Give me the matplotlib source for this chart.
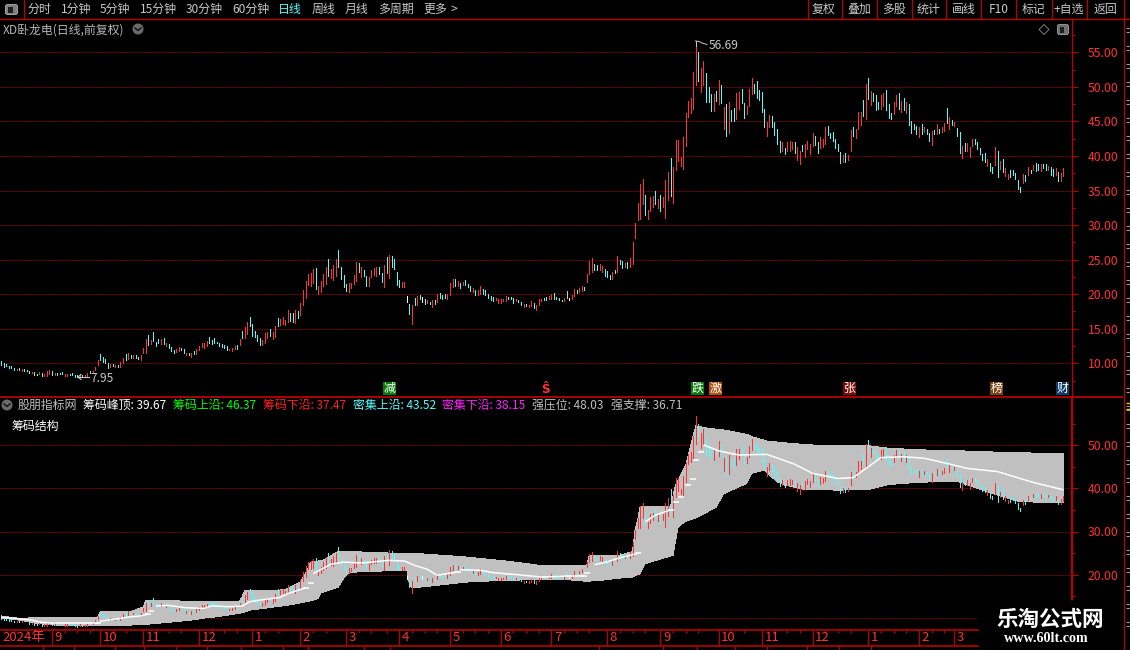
#!/usr/bin/env python3
"""Daily candles with a chip-structure panel, dark trading terminal layout."""

import matplotlib

matplotlib.use("Agg")
import matplotlib.pyplot as plt
from matplotlib.patches import Circle, FancyBboxPatch, Polygon, Rectangle

plt.rcParams["font.family"] = ["Noto Sans CJK SC", "DejaVu Sans"]

# one value per trading day
bar_high = [
    10.34, 10.0, 9.9, 9.6, 9.6, 9.3, 9.2, 9.3, 9.2, 9.1,
    9.0, 8.9, 8.75, 8.75, 8.45, 8.75, 8.6, 8.45, 8.9, 9.0,
    8.9, 8.6, 8.6, 8.6, 8.75, 8.45, 8.45, 8.45, 8.6, 8.3,
    8.3, 8.45, 8.3, 8.3, 8.6, 8.9, 8.9, 9.47, 10.4, 11.3,
    10.9, 10.6, 10.0, 9.9, 9.9, 9.7, 9.76, 10.2, 10.77, 11.3,
    11.5, 11.2, 11.2, 11.2, 10.9, 11.2, 12.2, 13.5, 14.1, 13.4,
    14.5, 13.1, 13.5, 13.5, 13.65, 12.95, 12.8, 12.35, 11.9, 12.05,
    12.35, 12.2, 12.05, 11.5, 11.5, 11.5, 11.8, 12.05, 12.5, 12.95,
    12.95, 13.2, 13.8, 13.4, 13.65, 13.1, 12.95, 12.8, 12.65, 12.5,
    12.1, 12.2, 12.5, 12.65, 13.5, 14.7, 15.25, 16.0, 16.7, 15.7,
    14.7, 14.1, 13.65, 13.4, 14.4, 14.5, 15.0, 14.5, 15.4, 16.55,
    16.4, 16.7, 16.3, 17.7, 17.3, 17.3, 17.7, 17.6, 18.7, 20.6,
    21.9, 22.9, 23.1, 23.6, 23.75, 21.15, 21.85, 22.9, 24.0, 25.05,
    23.6, 24.2, 25.05, 26.35, 23.9, 22.75, 21.45, 21.6, 21.6, 22.75,
    24.6, 24.45, 23.9, 23.45, 22.6, 22.45, 23.45, 23.75, 23.9, 24.0,
    23.0, 24.2, 25.35, 25.6, 25.5, 25.05, 23.15, 22.0, 21.8, 21.8,
    19.75, 18.6, 18.45, 19.45, 19.75, 19.9, 19.6, 19.3, 19.2, 18.9,
    19.2, 19.2, 20.05, 20.2, 19.9, 20.05, 20.05, 21.65, 22.2, 22.2,
    21.9, 21.65, 21.8, 22.05, 21.5, 21.2, 20.9, 20.6, 20.6, 21.2,
    20.75, 20.6, 20.05, 19.75, 19.6, 19.45, 19.3, 19.3, 19.3, 19.75,
    19.6, 19.6, 19.45, 19.3, 19.2, 18.9, 18.6, 18.6, 18.45, 19.05,
    18.75, 18.45, 19.3, 19.3, 19.45, 19.6, 19.75, 20.05, 20.2, 19.6,
    19.45, 19.2, 19.45, 20.5, 19.45, 19.9, 20.75, 20.6, 20.9, 21.2,
    21.05, 22.95, 24.8, 25.25, 24.4, 24.25, 24.4, 24.1, 23.65, 23.35,
    22.8, 23.25, 23.5, 25.55, 24.95, 24.8, 24.55, 24.7, 25.25, 27.55,
    30.3, 33.2, 35.95, 36.65, 34.35, 32.2, 34.05, 34.2, 34.95, 33.8,
    34.35, 34.05, 36.55, 37.7, 39.75, 38.45, 42.35, 42.35, 39.9, 42.8,
    46.15, 48.0, 48.45, 52.2, 56.69, 55.0, 52.8, 53.7, 51.95, 50.05,
    48.9, 48.9, 49.45, 51.05, 50.2, 47.15, 47.45, 47.75, 46.7, 47.0,
    49.05, 49.2, 49.75, 47.6, 47.3, 49.75, 51.35, 50.35, 50.8, 49.6,
    49.3, 46.85, 44.85, 45.9, 45.75, 44.9, 43.85, 42.15, 42.0, 41.1,
    42.0, 42.15, 42.0, 42.0, 41.25, 40.7, 41.55, 41.7, 42.15, 41.7,
    43.3, 42.85, 42.0, 42.7, 42.4, 44.15, 44.3, 43.3, 43.45, 42.4,
    41.7, 40.55, 40.1, 40.4, 40.1, 43.7, 44.15, 43.85, 46.3, 46.3,
    48.05, 50.35, 51.25, 49.35, 49.05, 48.8, 47.75, 48.8, 49.05, 49.5,
    47.5, 46.2, 47.75, 48.8, 49.05, 47.9, 48.35, 47.75, 47.5, 45.0,
    44.6, 44.3, 44.15, 44.6, 44.15, 43.85, 43.3, 43.6, 43.7, 44.6,
    43.85, 44.15, 44.75, 46.9, 45.6, 45.15, 44.9, 44.0, 43.45, 41.4,
    41.85, 41.85, 41.25, 42.4, 42.4, 42.0, 41.1, 40.25, 40.4, 39.55,
    38.95, 38.35, 41.25, 40.7, 39.25, 39.55, 38.25, 37.35, 37.95, 37.95,
    37.5, 36.5, 35.5, 37.35, 37.2, 38.35, 38.0, 38.65, 38.95, 38.8,
    38.8, 38.8, 38.8, 38.5, 38.35, 38.1, 38.25, 37.65, 37.5, 38.25,
]
bar_low = [
    9.76, 9.47, 9.57, 9.28, 9.28, 9.0, 9.0, 9.0, 8.9, 8.9,
    8.9, 8.6, 8.55, 8.3, 8.3, 8.45, 8.15, 8.15, 8.15, 8.45,
    8.3, 8.3, 8.3, 8.45, 8.45, 8.15, 8.15, 8.3, 8.3, 8.0,
    7.95, 8.0, 8.15, 8.15, 8.15, 8.55, 8.55, 9.0, 9.76, 10.5,
    10.2, 10.0, 9.3, 9.47, 9.6, 9.47, 9.47, 9.47, 10.05, 10.5,
    10.6, 10.77, 10.77, 10.77, 10.6, 10.5, 11.5, 11.5, 12.65, 12.8,
    13.2, 12.5, 12.95, 12.8, 12.8, 12.5, 12.2, 11.8, 11.5, 11.65,
    11.8, 11.9, 11.5, 11.2, 11.2, 10.9, 11.35, 11.35, 11.9, 12.35,
    12.2, 12.5, 12.95, 12.8, 12.95, 12.95, 12.5, 12.35, 12.2, 11.9,
    11.9, 11.8, 12.05, 12.05, 12.65, 13.65, 13.65, 14.25, 15.4, 13.95,
    13.8, 13.2, 12.65, 12.65, 12.95, 13.65, 13.95, 13.5, 13.8, 15.4,
    15.5, 15.7, 15.5, 16.0, 16.1, 16.0, 15.8, 16.55, 17.0, 18.4,
    19.45, 21.3, 21.2, 21.6, 20.7, 20.0, 20.3, 21.15, 21.45, 22.6,
    22.3, 22.0, 22.6, 23.9, 22.15, 21.0, 20.4, 20.3, 20.85, 21.45,
    21.85, 23.2, 22.45, 22.6, 21.15, 21.15, 22.45, 22.75, 22.6, 22.9,
    21.7, 21.0, 23.0, 22.3, 23.9, 23.6, 21.3, 21.0, 21.05, 21.05,
    18.9, 17.15, 15.7, 18.45, 18.45, 19.3, 18.9, 18.6, 18.75, 18.6,
    18.2, 18.6, 18.9, 19.5, 19.3, 19.5, 19.3, 19.9, 21.05, 21.2,
    21.2, 20.9, 21.35, 21.35, 21.05, 20.5, 20.35, 19.9, 19.9, 20.05,
    20.05, 19.9, 19.5, 19.2, 19.05, 19.2, 18.75, 18.75, 19.05, 19.05,
    19.3, 19.3, 18.75, 19.05, 18.9, 18.45, 18.15, 18.3, 18.15, 18.3,
    18.0, 17.75, 18.45, 19.05, 19.2, 19.2, 19.3, 19.3, 19.3, 19.3,
    19.2, 19.05, 19.05, 19.45, 19.2, 19.3, 19.75, 20.2, 20.35, 20.5,
    20.6, 21.8, 22.95, 23.25, 23.5, 23.5, 23.5, 23.25, 22.65, 22.5,
    22.2, 22.2, 23.1, 23.25, 24.4, 23.8, 23.95, 23.8, 23.95, 24.4,
    28.15, 30.75, 30.9, 33.05, 31.45, 30.9, 32.05, 32.6, 33.05, 32.5,
    32.05, 32.6, 31.05, 33.65, 34.25, 33.25, 38.0, 39.3, 38.6, 38.15,
    41.5, 45.7, 46.15, 46.85, 50.2, 50.9, 49.3, 50.2, 47.85, 47.85,
    46.55, 46.55, 48.0, 47.45, 47.6, 43.95, 42.95, 43.25, 45.1, 45.0,
    45.4, 46.85, 47.7, 45.55, 46.0, 47.3, 48.9, 49.05, 48.45, 48.15,
    46.4, 44.25, 42.95, 44.2, 44.15, 43.0, 41.7, 40.55, 40.7, 40.25,
    40.7, 40.7, 41.0, 40.4, 39.4, 38.8, 40.7, 39.8, 41.0, 40.25,
    41.4, 41.55, 40.4, 41.1, 41.25, 41.7, 43.0, 42.55, 42.15, 41.1,
    40.7, 38.95, 39.1, 39.1, 39.4, 40.7, 42.85, 42.55, 43.85, 44.45,
    45.75, 45.3, 48.2, 47.35, 47.9, 46.6, 46.75, 46.75, 47.2, 46.6,
    45.45, 45.3, 46.05, 47.2, 46.75, 46.3, 46.6, 46.2, 44.45, 43.3,
    43.85, 43.15, 42.7, 43.15, 43.45, 43.15, 42.15, 41.55, 43.15, 43.15,
    43.3, 43.45, 43.6, 44.75, 43.85, 44.45, 44.3, 42.85, 40.4, 39.65,
    40.7, 40.7, 39.8, 41.4, 41.7, 41.0, 40.25, 39.4, 39.1, 38.5,
    37.8, 37.5, 38.65, 36.95, 38.1, 37.65, 37.05, 36.65, 36.95, 37.2,
    36.65, 35.2, 34.8, 36.05, 36.35, 37.2, 37.6, 37.95, 37.8, 37.95,
    37.8, 38.25, 37.95, 37.95, 37.2, 37.05, 37.2, 36.35, 36.35, 37.05,
]
# r = up, c = down, w = flat
bar_kind = (
    "ccccccrcrc" "ccrccrcrrr" "crcccrrccc" "crcrrcrrrc" "cccrcrcrrc"
    "rcrccrrrcr" "cccrcrcccr" "rccrcrcrrr" "rrcccccccc" "rrrcrcrrcc"
    "cccrrrcrrc" "rrrrccrcrr" "rrrrcrrrrc" "rrrccccrrr" "rcrccrrrrc"
    "crcrccccrr" "wcrcrcwcrc" "rcrcccrrrc" "rcrcccrcrr" "cccccrrrrr"
    "cccrccrcrr" "crrrccrrcc" "ccrcwrrcrr" "crrrccrrcc" "crcrccrcrr"
    "rrrrcrrrcr" "crrrcrrrrr" "rrrrrcrrcc" "crcrcrcrcc" "rrccrrrccc"
    "ccrrccccrc" "rrrcrrcrrr" "rccrrrcccc" "ccrcrrcrrr" "crcrcccrrc"
    "ccrrcrcrcc" "ccrcrccrcr" "crrcrcrccr" "crrrcccccr" "ccrcrcrrcc"
    "cccrcrcrcc" "rccrccrcrr"
)

# grey chip band edges and the white peak line, read at the bars where they bend
top_bars = [0, 7, 14, 38, 39, 51, 56, 57, 83, 94, 95, 96, 108, 113, 118, 120, 122, 127,
            133, 142, 153, 165, 183, 199, 213, 222, 231, 232, 244, 249, 250, 251, 252,
            264, 266, 270, 272, 274, 276, 279, 285, 294, 296, 302, 311, 319, 325, 336,
            342, 350, 365, 379, 393, 407, 419]
top_vals = [10.4, 9.85, 10.0, 10.1, 11.4, 11.4, 12.5, 13.9, 13.85, 13.7, 14.85, 16.2,
            16.2, 16.7, 18.3, 20.2, 22.9, 23.3, 25.4, 25.25, 25.0, 24.85, 24.1, 23.15,
            22.1, 22.0, 22.2, 24.5, 24.5, 25.3, 30.3, 32.6, 35.7, 35.7, 40.8, 45.4,
            50.1, 54.5, 54.25, 53.95, 53.55, 52.55, 52.0, 51.0, 50.45, 50.1, 49.9, 49.9,
            49.9, 49.3, 48.9, 48.7, 48.4, 48.2, 48.03]
bot_bars = [0, 7, 14, 21, 28, 46, 51, 59, 75, 81, 85, 95, 98, 113, 122, 125, 126, 133,
            135, 137, 142, 160, 161, 162, 170, 184, 199, 222, 231, 237, 244, 249, 252,
            254, 265, 266, 267, 270, 275, 282, 285, 294, 296, 301, 306, 309, 316, 330,
            342, 350, 359, 373, 377, 383, 393, 402, 419]
bot_vals = [9.9, 9.45, 8.7, 8.3, 8.1, 8.1, 8.3, 8.55, 9.45, 10.0, 10.2, 11.15, 11.75,
            12.9, 13.9, 14.45, 15.75, 17.15, 19.1, 20.45, 20.7, 21.0, 17.9, 16.9, 17.4,
            18.3, 18.7, 18.9, 18.45, 18.7, 19.2, 19.45, 20.25, 22.55, 24.5, 28.0, 31.1,
            32.4, 33.4, 35.7, 38.8, 41.15, 43.5, 44.25, 41.55, 40.8, 39.85, 39.6, 39.75,
            40.9, 41.3, 41.7, 41.7, 40.4, 38.45, 36.9, 36.71]
peak_bars = [0, 7, 12, 15, 21, 38, 39, 44, 51, 55, 58, 59, 61, 66, 73, 80, 83, 90, 95,
             98, 102, 110, 113, 120, 122, 123, 126, 130, 135, 142, 153, 159, 163, 168,
             172, 180, 181, 189, 194, 203, 213, 222, 230, 231, 234, 239, 244, 251, 254,
             258, 264, 266, 268, 271, 273, 274, 276, 277, 283, 291, 302, 313, 320, 330,
             336, 342, 347, 356, 364, 373, 381, 393, 407, 419]
peak_vals = [10.1, 9.75, 9.45, 9.0, 8.7, 8.7, 9.2, 9.6, 10.2, 10.4, 10.85, 11.6, 12.75,
             12.85, 12.3, 12.15, 12.75, 12.55, 12.7, 13.7, 14.1, 14.7, 15.6, 16.9, 18.1,
             20.2, 21.15, 22.4, 22.9, 22.7, 23.3, 23.15, 22.15, 21.25, 19.85, 20.6, 21.15,
             21.0, 20.45, 20.0, 19.45, 19.6, 19.6, 20.4, 22.3, 22.95, 23.9, 24.9, 32.25,
             33.8, 35.0, 36.9, 38.05, 40.8, 42.15, 46.6, 48.4, 50.1, 48.7, 47.75, 47.9,
             45.6, 43.5, 42.3, 42.5, 45.0, 47.15, 47.35, 47.0, 45.8, 44.65, 43.9, 41.4,
             39.67]

upper_ticks = [55, 50, 45, 40, 35, 30, 25, 20, 15, 10]
upper_minor = [57.5, 52.5, 47.5, 42.5, 37.5, 32.5, 27.5, 22.5, 17.5, 12.5, 7.5]
lower_ticks = [50, 40, 30, 20]
lower_minor = [55, 45, 35, 25, 15]
lower_grid = [50, 40, 30, 20]

month_bars = [20, 39, 56, 78, 99, 118, 136, 157, 177, 197, 217, 239, 260, 283, 300, 320,
              342, 362, 376]
month_labels = ["9", "10", "11", "12", "1", "2", "3", "4", "5", "6", "7", "8", "9", "10",
                "11", "12", "1", "2", "3"]
week_bars = [5, 10, 15, 25, 30, 35, 44, 49, 61, 66, 71, 83, 88, 93, 104, 109, 123, 128,
             141, 146, 152, 162, 167, 172, 182, 187, 192, 202, 207, 212, 222, 227, 232,
             244, 249, 254, 265, 270, 275, 288, 293, 305, 310, 315, 325, 330, 335, 347,
             352, 357, 367, 372]

periods = [("分时", 28, "#c8c8c8"), ("1分钟", 61, "#c8c8c8"), ("5分钟", 100, "#c8c8c8"),
           ("15分钟", 140, "#c8c8c8"), ("30分钟", 186, "#c8c8c8"), ("60分钟", 232, "#c8c8c8"),
           ("日线", 278, "#54fcfc"), ("周线", 312, "#c8c8c8"), ("月线", 345, "#c8c8c8"),
           ("多周期", 378, "#c8c8c8"), ("更多", 423, "#c8c8c8")]
buttons = [("复权", 824), ("叠加", 859), ("多股", 894), ("统计", 928.5), ("画线", 963.5),
           ("F10", 999), ("标记", 1034), ("+自选", 1069), ("返回", 1105)]
button_seps = [807.5, 841.5, 876.5, 911.5, 946, 981, 1016, 1051.5, 1086.5, 1123.5]
legend_items = [("股朋指标网", 18, "#c0c0c0"), ("筹码峰顶: 39.67", 83, "#ffffff"),
                ("筹码上沿: 46.37", 173, "#00ff00"), ("筹码下沿: 37.47", 263, "#ff2020"),
                ("密集上沿: 43.52", 353, "#54fcfc"), ("密集下沿: 38.15", 442.5, "#ff20ff"),
                ("强压位: 48.03", 532.5, "#c0c0c0"), ("强支撑: 36.71", 611, "#c0c0c0")]
signals = [("减", 383, "#0a7a0a"), ("跌", 691, "#0a7a0a"), ("激", 709, "#b0500f"),
           ("张", 843, "#7c0c0c"), ("榜", 990, "#7a4510"), ("财", 1056, "#103a6a")]
# separators of the cut-off strip under the dates
under_seps = [42.5, 74, 115, 144, 176, 207, 241, 283, 308, 364, 390, 599, 663, 696.5, 735,
              767, 807, 839, 871]

W, H = 1130, 650
AXIS_X = 1072
FIRST_X, STEP_X = 1.3, 2.535
RED = "#ff3232"
DARK = "#b80000"
CYAN = "#54fcfc"
GREY = "#c8c8c8"
DOTS = dict(color="#e00000", lw=0.72, ls=(0, (1, 2)), zorder=1)
kind_color = {"r": RED, "c": CYAN, "w": "#ffffff"}

fig = plt.figure(figsize=(W / 100, H / 100), dpi=100, facecolor="black")


def panel(y_top, y_bot, x_right=AXIS_X):
    ax = fig.add_axes([0, 1 - y_bot / H, x_right / W, (y_bot - y_top) / H])
    ax.set_facecolor("none")
    ax.set_xlim(-FIRST_X / STEP_X, (x_right - FIRST_X) / STEP_X)
    for side in ("top", "left", "bottom"):
        ax.spines[side].set_visible(False)
    ax.spines["right"].set_color(DARK)
    ax.set_xticks([])
    return ax


def draw_bars(ax):
    days = range(len(bar_high))
    ax.vlines(days, bar_low, bar_high, colors=[kind_color[k] for k in bar_kind],
              linewidth=0.72, antialiased=False, zorder=4)


def price_axis(ax, major, minor):
    ax.yaxis.tick_right()
    ax.set_yticks(major)
    ax.set_yticklabels([f"{v:.2f}" for v in major])
    ax.set_yticks(minor, minor=True)
    ax.tick_params(axis="y", which="major", length=4.3, width=0.8, color=DARK,
                   labelcolor=RED, labelsize=8.8, pad=7)
    ax.tick_params(axis="y", which="minor", length=2, width=0.8, color=DARK)


# upper panel: 55 sits at y=52.3, 6.91 px per unit
ax_up = panel(19, 396)
ax_up.set_ylim(55 - (396 - 52.3) / 6.91, 55 - (19 - 52.3) / 6.91)
for v in upper_ticks:
    ax_up.axhline(v, **DOTS)
draw_bars(ax_up)
price_axis(ax_up, upper_ticks, upper_minor)
ax_up.spines["right"].set_linewidth(0.9)

# lower panel: 50 sits at y=445.3, 4.31 px per unit
ax_low = panel(398, 630)
ax_low.set_ylim(50 - (630 - 445.3) / 4.31, 50 - (398 - 445.3) / 4.31)
for v in lower_grid:
    ax_low.axhline(v, **DOTS)
ax_low.axhline(10, xmax=978 / AXIS_X, **DOTS)
band = list(zip(top_bars, top_vals)) + list(zip(bot_bars, bot_vals))[::-1]
ax_low.add_patch(Polygon(band, closed=True, facecolor="#c0c0c0", edgecolor="none",
                         antialiased=False, zorder=2))
draw_bars(ax_low)
# the peak line breaks into short dashes wherever it jumps
for i in range(len(peak_bars) - 1):
    dx = peak_bars[i + 1] - peak_bars[i]
    dy = peak_vals[i + 1] - peak_vals[i]
    if abs(dy) / dx < 0.45:
        ax_low.plot(peak_bars[i:i + 2], peak_vals[i:i + 2], color="white", lw=1.1, zorder=5,
                    solid_capstyle="butt")
    else:
        ax_low.plot(peak_bars[i], peak_vals[i], marker="_", ms=4, mew=1.1, color="white",
                    zorder=5)
price_axis(ax_low, lower_ticks, lower_minor)
ax_low.spines["right"].set_linewidth(1.6)
ax_low.spines["right"].set_bounds(50 - (599 - 445.3) / 4.31, 50 - (398 - 445.3) / 4.31)

# date strip
ax_date = panel(630, 646, 978)
ax_date.set_ylim(1, 0)
ax_date.set_yticks([])
ax_date.spines["right"].set_visible(False)
for side in ("top", "bottom"):
    ax_date.spines[side].set_visible(True)
    ax_date.spines[side].set_color(DARK)
    ax_date.spines[side].set_linewidth(1.2)
ax_date.vlines(month_bars, 0, 1, color=DARK, lw=0.9)
ax_date.vlines(week_bars, 0, 0.2, color=DARK, lw=0.8)
for bar, label in zip(month_bars, month_labels):
    ax_date.annotate(label, xy=(bar, 0.52), xycoords=("data", "axes fraction"),
                     xytext=(1.8, 0), textcoords="offset points", color=RED, fontsize=9.5,
                     va="center", ha="left")
ax_date.annotate("2024年", xy=(0, 0.52), xycoords="axes fraction", xytext=(1.5, 0),
                 textcoords="offset points", color=RED, fontsize=9.5, va="center", ha="left")

# window furniture in pixel coordinates
chrome = fig.add_axes([0, 0, 1, 1], zorder=10)
chrome.set_xlim(0, W)
chrome.set_ylim(H, 0)
chrome.axis("off")
chrome.patch.set_alpha(0)

chrome.plot([0, 1130], [19, 19], color=DARK, lw=1)
chrome.plot([23.5, 23.5], [0, 19], color=DARK, lw=1)
chrome.plot([0, 1122], [396.5, 396.5], color=DARK, lw=1.3)
for x in button_seps:
    chrome.plot([x, x], [0, 19], color=DARK, lw=0.9)
chrome.plot([1123.5, 1123.5], [19, 650], color=DARK, lw=0.9)
chrome.vlines(under_seps, 646, 650, color=DARK, lw=0.9)
# clipped column at the far right edge
for row in range(28, 640, 18):
    chrome.hlines([row, row + 4], 1126, 1130, color="#9a9a9a", lw=0.8)
chrome.hlines([403, 409], 1126, 1130, color="#d8d020", lw=1)

for label, x, color in periods:
    chrome.text(x, 9.5, label, color=color, fontsize=8.6, va="center", ha="left")
chrome.text(454, 9.5, ">", color=GREY, fontsize=8.6, va="center", ha="center")
for label, x in buttons:
    chrome.text(x, 9.5, label, color=GREY, fontsize=8.6, va="center", ha="center")

chrome.add_patch(FancyBboxPatch((6, 5), 11, 9, boxstyle="round,pad=0.5,rounding_size=2",
                                facecolor="#808080", edgecolor="#a0a0a0", lw=0.7))
chrome.add_patch(Rectangle((8, 6.5), 4.5, 6, facecolor="#202020", edgecolor="none"))

chrome.text(3, 30, "XD卧龙电(日线,前复权)", color="#b4b4b4", fontsize=8.6, va="center", ha="left")
for cx, cy in [(138, 29), (7, 405)]:
    chrome.add_patch(Circle((cx, cy), 5.5, facecolor="#6a6a6a", edgecolor="none"))
    chrome.plot([cx - 3, cx, cx + 3], [cy - 1, cy + 1.5, cy - 1], color="#111111", lw=1)

chrome.add_patch(Polygon([(1044, 24.5), (1049, 29.5), (1044, 34.5), (1039, 29.5)], closed=True,
                         facecolor="none", edgecolor="#707070", lw=0.8))
chrome.add_patch(FancyBboxPatch((1058, 25), 10, 9, boxstyle="round,pad=0.5,rounding_size=2",
                                facecolor="#707070", edgecolor="#909090", lw=0.7))
chrome.add_patch(Rectangle((1059.5, 26.5), 4.5, 6, facecolor="#202020", edgecolor="none"))

# high and low callouts
chrome.text(709, 45.5, "56.69", color=GREY, fontsize=8.6, va="center", ha="left")
chrome.plot([695.5, 699, 702, 707], [41, 41.5, 43, 44.5], color=GREY, lw=0.7)
chrome.plot([695.5, 695.5], [41, 46], color=GREY, lw=0.7)
chrome.text(90.5, 378.5, "7.95", color=GREY, fontsize=8.6, va="center", ha="left")
chrome.plot([78, 89], [377, 377], color=GREY, lw=0.8)
chrome.plot([81, 78, 81], [374.5, 377, 379.5], color=GREY, lw=0.8)

for label, x, color in signals:
    chrome.add_patch(Rectangle((x, 382), 13, 13, facecolor=color, edgecolor="none"))
    chrome.text(x + 6.5, 388.3, label, color="white", fontsize=8.6, va="center", ha="center")
chrome.text(545, 389.5, "Ŝ", color=RED, fontsize=8.6, va="center", ha="center",
            fontweight="bold", family="DejaVu Sans")

for label, x, color in legend_items:
    chrome.text(x, 405, label, color=color, fontsize=8.6, va="center", ha="left")
chrome.text(11.5, 426.5, "筹码结构", color="#ffffff", fontsize=8.6, va="center", ha="left")

# watermark
chrome.text(1050, 619, "乐淘公式网", color="white", fontsize=15.5, fontweight="bold",
            va="center", ha="center")
chrome.text(1046, 639, "www.60lt.com", color="white", fontsize=10.2, fontweight="bold",
            va="center", ha="center", family="Liberation Serif")

fig.savefig("out.png", dpi=100, facecolor="black")
